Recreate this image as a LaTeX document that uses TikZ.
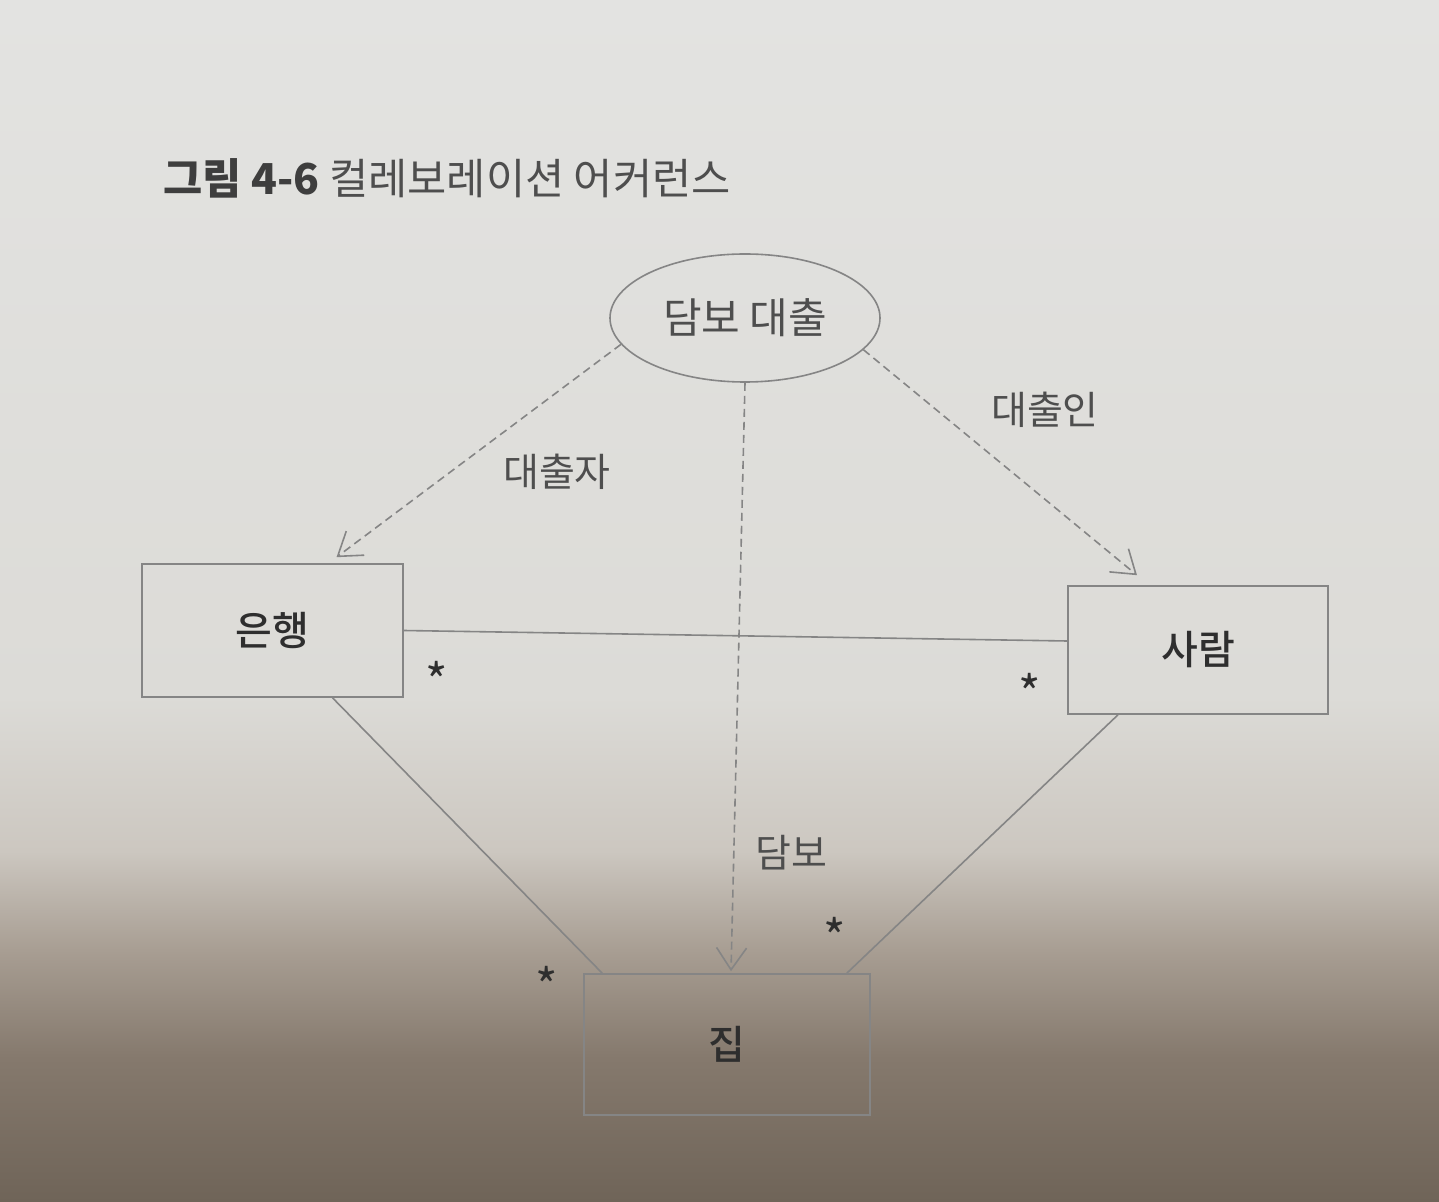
\documentclass[tikz,border=0pt]{standalone}
\usepackage{fontspec}
\setmainfont{Noto Sans CJK KR}
\newfontfamily\medfont{Noto Sans CJK KR Medium}
\usetikzlibrary{shapes.geometric,arrows.meta,calc}
\definecolor{linec}{HTML}{858585}
\definecolor{txtc}{HTML}{4E4E4E}
\definecolor{boxtxt}{HTML}{2E2E2E}
\definecolor{titleb}{HTML}{3E3E3E}
\definecolor{c1}{HTML}{E3E3E1}
\definecolor{c2}{HTML}{DCDBD7}
\definecolor{c3}{HTML}{CCC7C0}
\definecolor{c4}{HTML}{A89E93}
\definecolor{c5}{HTML}{85796D}
\definecolor{c6}{HTML}{6F6458}
\pgfdeclareverticalshading{pagebg}{100bp}{%
  color(0bp)=(c6); color(25bp)=(c6); color(31bp)=(c5); color(35.5bp)=(c4);
  color(39.6bp)=(c3); color(46bp)=(c2); color(75bp)=(c1); color(100bp)=(c1)}
\begin{document}
\begin{tikzpicture}[x=0.5pt,y=-0.5pt,
  every node/.style={inner sep=0pt},
  cls/.style={draw=linec,line width=0.8pt,rectangle,font=\medfont\fontsize{20}{24}\selectfont,text=boxtxt},
  usecase/.style={draw=linec,line width=0.8pt,ellipse,font=\fontsize{21}{26}\selectfont,text=txtc},
  dep/.style={draw=linec,line width=0.8pt,dash pattern=on 4pt off 2.5pt,-{Straight Barb[length=11pt,width=15pt,line width=0.8pt]}},
  assoc/.style={draw=linec,line width=0.8pt},
  lbl/.style={font=\fontsize{19.5}{22}\selectfont,text=txtc},
  mult/.style={font=\fontsize{24}{26}\selectfont,text=boxtxt}]
\shade[shading=pagebg] (0,0) rectangle (1439,1202);
\useasboundingbox (0,0) rectangle (1439,1202);

\node[anchor=west,font=\fontsize{21.3}{24}\selectfont,text=txtc] (title) at (163,178)
  {{\bfseries\color{titleb}그림 4-6} 컬레보레이션 어커런스};

\node[usecase,minimum width=135pt,minimum height=64pt] (loan) at (745,318) {담보 대출};
\node[cls,minimum width=130.5pt,minimum height=66.5pt] (bank) at (272.5,630.5) {은행};
\node[cls,minimum width=130pt,minimum height=64pt] (person) at (1198,650) {사람};
\node[cls,minimum width=143pt,minimum height=70.5pt] (house) at (727,1044.5) {집};

\coordinate (bankIn) at ($(bank.north)+(64,-6)$);
\coordinate (personIn) at ($(person.north)+(-61,-10)$);
\coordinate (houseIn) at ($(house.north)+(4,-2)$);

\draw[dep] (loan.192.7) -- (bankIn);
\draw[dep] (loan.-15.5) -- (personIn);
\draw[dep] (loan.south) -- (houseIn);

\draw[assoc] (bank.east) -- ($(person.west)+(0,-9)$);
\draw[assoc] ($(bank.south)+(60,0)$) -- ($(house.north west)+(19,0)$);
\draw[assoc] ($(person.south)+(-80,0)$) -- ($(house.north east)+(-24,0)$);

\node[lbl] (l1) at (557,472) {대출자};
\node[lbl] (l2) at (1045,410) {대출인};
\node[lbl] (l3) at (791,853) {담보};

\node[mult] (m1) at (437,680) {*};
\node[mult] (m2) at (1030,692) {*};
\node[mult] (m3) at (547,985) {*};
\node[mult] (m4) at (835,936) {*};
\end{tikzpicture}
\end{document}
